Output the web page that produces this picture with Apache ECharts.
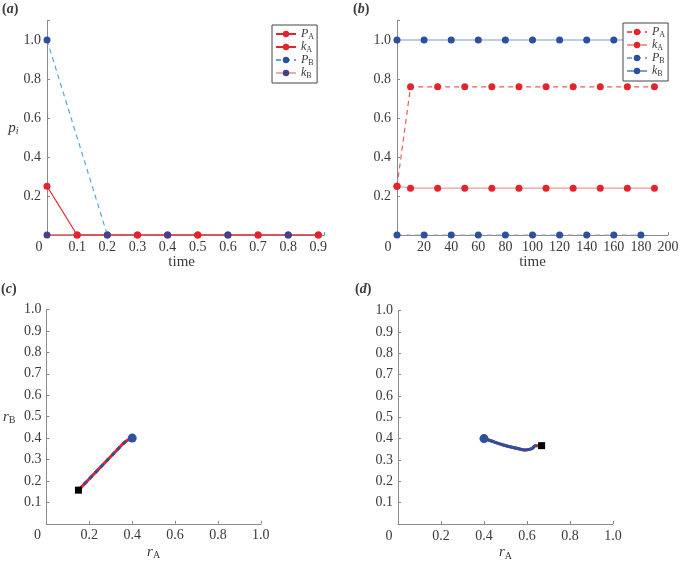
<!DOCTYPE html>
<html><head><meta charset="utf-8">
<script src="https://cdn.jsdelivr.net/npm/echarts@6/dist/echarts.min.js"></script>
<style>html,body{margin:0;padding:0;background:#fff}#c{width:680px;height:561px}</style>
</head><body><div id="c"></div>
<script>
// ---------- Data ----------
// panel (a)
const aTimeA = [0, 0.1, 0.3, 0.5, 0.7, 0.9];
const aPA = [0.25, 0, 0, 0, 0, 0];
const aKA = [0, 0, 0, 0, 0, 0];
const aTimeB = [0, 0.2, 0.4, 0.6, 0.8];
const aPB = [1.0, 0, 0, 0, 0];
const aKB = [0, 0, 0, 0, 0];
// panel (b)
const bTimeA = [0, 10, 30, 50, 70, 90, 110, 130, 150, 170, 190];
const bPA = [0.25, 0.76, 0.76, 0.76, 0.76, 0.76, 0.76, 0.76, 0.76, 0.76, 0.76];
const bKA = [0.25, 0.24, 0.24, 0.24, 0.24, 0.24, 0.24, 0.24, 0.24, 0.24, 0.24];
const bTimeB = [0, 20, 40, 60, 80, 100, 120, 140, 160, 180];
const bPB = [0, 0, 0, 0, 0, 0, 0, 0, 0, 0];
const bKB = [1, 1, 1, 1, 1, 1, 1, 1, 1, 1];
// panel (c) trajectory (rA, rB)
const cRA = [0.149, 0.20, 0.25, 0.30, 0.358, 0.375, 0.39, 0.40];
const cRB = [0.157, 0.21, 0.262, 0.314, 0.375, 0.388, 0.397, 0.40];
// panel (d) trajectory (rA, rB)
const dRA = [0.40, 0.428, 0.49, 0.552, 0.591, 0.622, 0.637, 0.645, 0.668];
const dRB = [0.40, 0.391, 0.370, 0.355, 0.347, 0.353, 0.366, 0.367, 0.367];
// tick labels
const tickA = ['0', '0.1', '0.2', '0.3', '0.4', '0.5', '0.6', '0.7', '0.8', '0.9'];

// ---------- Styles ----------
const SERIF = '"Liberation Serif", "DejaVu Serif", serif';
const AX = '#8a8a8a';
const TXT = '#3a3a3a';
const RED = '#e3242b';
const BLUE = '#2c4f9e';
const PURPLE = '#4a3d8c';

function richSet(zeroPad) {
  return {
    i: {fontFamily: SERIF, fontStyle: 'italic', fontSize: 15, color: TXT},
    s: {fontFamily: SERIF, fontSize: 10, color: TXT, padding: [8, 0, 0, 0]},
    si: {fontFamily: SERIF, fontStyle: 'italic', fontSize: 10, color: TXT, padding: [8, 0, 0, 0]},
    z: {fontFamily: SERIF, fontSize: 14, color: TXT, padding: [0, zeroPad, 0, 0]}
  };
}
const legRich = {
  i: {fontFamily: SERIF, fontStyle: 'italic', fontSize: 12, color: TXT},
  s: {fontFamily: SERIF, fontSize: 8, color: TXT, padding: [6, 0, 0, 0]}
};
const legNames = {
  aPA: '{i|P}{s|A}', aKA: '{i|k}{s|A}', aPB: '{i|P}{s|B}', aKB: '{i|k}{s|B}',
  bPA: '{i|P}{s|A}', bKA: '{i|k}{s|A}', bPB: '{i|P}{s|B}', bKB: '{i|k}{s|B}'
};

function near(v, step) { const k = Math.round(v / step); return Math.abs(v / step - k) < 1e-6 ? k : null; }

function axisBase(gridIndex, min, max, interval, formatter, zeroPad, margin) {
  return {
    type: 'value', gridIndex, min, max, interval,
    splitLine: {show: false},
    axisLine: {show: true, onZero: false, lineStyle: {color: AX, width: 1}},
    axisTick: {show: true, inside: true, length: 3, lineStyle: {color: AX}},
    axisLabel: {fontFamily: SERIF, fontSize: 14, color: TXT, margin, formatter, rich: richSet(zeroPad)}
  };
}

const fmtXA = v => { const k = near(v, 0.1); if (k === null) return ''; return k === 0 ? '{z|0}' : tickA[k]; };
const fmtY2 = v => { const k = near(v, 0.2); if (k === null || k === 0) return ''; return (k * 0.2).toFixed(1); };
const fmtXB = v => v === 0 ? '{z|0}' : String(v);
const fmtY1 = v => { const k = near(v, 0.1); if (k === null || k === 0) return ''; return (k * 0.1).toFixed(1); };
const fmtX2 = v => { const k = near(v, 0.2); if (k === null) return ''; return k === 0 ? '{z|0}' : (k * 0.2).toFixed(1); };

const xAxes = [
  Object.assign(axisBase(0, 0, 0.92, 0.1, fmtXA, 16, 5), {name: 'time', nameLocation: 'middle', nameGap: 20,
    nameTextStyle: {fontFamily: SERIF, fontSize: 15, color: TXT, padding: [0, 8, 0, 0]}}),
  Object.assign(axisBase(1, 0, 200, 20, fmtXB, 18, 5), {name: 'time', nameLocation: 'middle', nameGap: 20,
    nameTextStyle: {fontFamily: SERIF, fontSize: 15, color: TXT}}),
  Object.assign(axisBase(2, 0, 1, 0.2, fmtX2, 18, 5), {name: '{i|r}{s|A}', nameLocation: 'middle', nameGap: 19,
    nameTextStyle: {rich: richSet(0)}}),
  Object.assign(axisBase(3, 0, 1, 0.2, fmtX2, 18, 5), {name: '{i|r}{s|A}', nameLocation: 'middle', nameGap: 19,
    nameTextStyle: {rich: richSet(0)}})
];
const yAxes = [
  Object.assign(axisBase(0, 0, 1.1, 0.2, fmtY2, 0, 6), {name: '{i|p}{si|i}', nameLocation: 'middle', nameRotate: 0, nameGap: 19,
    nameTextStyle: {rich: richSet(0)}}),
  axisBase(1, 0, 1.1, 0.2, fmtY2, 0, 6),
  Object.assign(axisBase(2, 0, 1, 0.1, fmtY1, 0, 5), {name: '{i|r}{s|B}', nameLocation: 'middle', nameRotate: 0, nameGap: 31,
    nameTextStyle: {rich: richSet(0)}}),
  axisBase(3, 0, 1, 0.1, fmtY1, 0, 5)
];

function pts(xs, ys) { return xs.map((x, i) => [x, ys[i]]); }

function lineSeries(name, g, data, lineColor, dotColor, dashed, extra) {
  return Object.assign({
    name, type: 'line', xAxisIndex: g, yAxisIndex: g, data,
    symbol: 'circle', symbolSize: 7, showAllSymbol: true, showSymbol: true,
    lineStyle: {color: lineColor, width: 1.2, type: dashed ? [5, 4] : 'solid'},
    itemStyle: {color: dotColor},
    emphasis: {disabled: true}, silent: true
  }, extra || {});
}

const kAdata = pts(aTimeA, aKA).map((p, i) => i === 0 ? {value: p, symbol: 'none'} : p);

const cRedData = pts(cRA, cRB).map((p, i) => i === 0 ? {value: p, symbol: 'rect', symbolSize: 7, itemStyle: {color: '#000'}} : p);
const cBlueData = pts(cRA, cRB).map((p, i) => i === cRA.length - 1 ? {value: p, symbol: 'circle', symbolSize: 9} : p);
const dRedData = pts(dRA, dRB).map((p, i) => i === dRA.length - 1 ? {value: p, symbol: 'rect', symbolSize: 7, itemStyle: {color: '#000'}} : p);
const dBlueData = pts(dRA, dRB).slice(0, dRA.length - 1).map((p, i) => i === 0 ? {value: p, symbol: 'circle', symbolSize: 9} : p);

const series = [
  // (a)
  lineSeries('aPB', 0, pts(aTimeB, aPB), '#5aa6dc', BLUE, true),
  lineSeries('aKB', 0, pts(aTimeB, aKB), '#f2a9a9', PURPLE, false),
  lineSeries('aPA', 0, pts(aTimeA, aPA), RED, RED, false),
  lineSeries('aKA', 0, kAdata, RED, RED, false),
  // (b)
  lineSeries('bPB', 1, pts(bTimeB, bPB), '#8ea6d6', BLUE, true),
  lineSeries('bKB', 1, pts(bTimeB, bKB), '#7f9bd0', BLUE, false),
  lineSeries('bPA', 1, pts(bTimeA, bPA), '#ea5a60', RED, true),
  lineSeries('bKA', 1, pts(bTimeA, bKA), '#f19a9a', RED, false),
  // (c)
  lineSeries('cRed', 2, cRedData, RED, RED, false, {symbol: 'none', lineStyle: {color: RED, width: 3}}),
  lineSeries('cBlue', 2, cBlueData, BLUE, BLUE, true, {symbol: 'none', lineStyle: {color: BLUE, width: 3, type: [4, 4]}}),
  // (d)
  lineSeries('dRed', 3, dRedData, RED, RED, false, {symbol: 'none', smooth: 0.4, lineStyle: {color: '#c8202a', width: 3}}),
  lineSeries('dBlue', 3, dBlueData, BLUE, BLUE, false, {symbol: 'none', smooth: 0.4, lineStyle: {color: BLUE, width: 3}})
];

function legend(left, top, names) {
  return {
    orient: 'vertical', left, top, padding: [3, 3, 3, 3], itemGap: 0,
    itemWidth: 20, itemHeight: 8, borderColor: '#444', borderWidth: 1, backgroundColor: '#fff',
    data: names, formatter: n => legNames[n], textStyle: {rich: legRich}, selectedMode: false
  };
}

function panelTitle(letter, left, top) {
  return {
    text: '{n|(}{i|' + letter + '}{n|)}', left, top, padding: 0,
    textStyle: {rich: {
      n: {fontFamily: SERIF, fontSize: 14, color: TXT},
      i: {fontFamily: SERIF, fontSize: 14, fontStyle: 'italic', color: TXT}
    }}
  };
}

const option = {
  animation: false,
  backgroundColor: '#fff',
  title: [panelTitle('a', 2, 2), panelTitle('b', 353, 2), panelTitle('c', 1, 282), panelTitle('d', 355, 282)],
  grid: [
    {left: 47, top: 20.5, width: 277.4, height: 214.5, outerBoundsMode: 'none', containLabel: false},
    {left: 397, top: 20.5, width: 271, height: 214.5, outerBoundsMode: 'none', containLabel: false},
    {left: 46.5, top: 309.5, width: 214.3, height: 214.3, outerBoundsMode: 'none', containLabel: false},
    {left: 398, top: 310.5, width: 215, height: 213.5, outerBoundsMode: 'none', containLabel: false}
  ],
  xAxis: xAxes,
  yAxis: yAxes,
  legend: [legend(272, 25, ['aPA', 'aKA', 'aPB', 'aKB']), legend(623, 23, ['bPA', 'bKA', 'bPB', 'bKB'])],
  series
};

const chart = echarts.init(document.getElementById('c'), null, {renderer: 'canvas'});
chart.setOption(option);
</script></body></html>
